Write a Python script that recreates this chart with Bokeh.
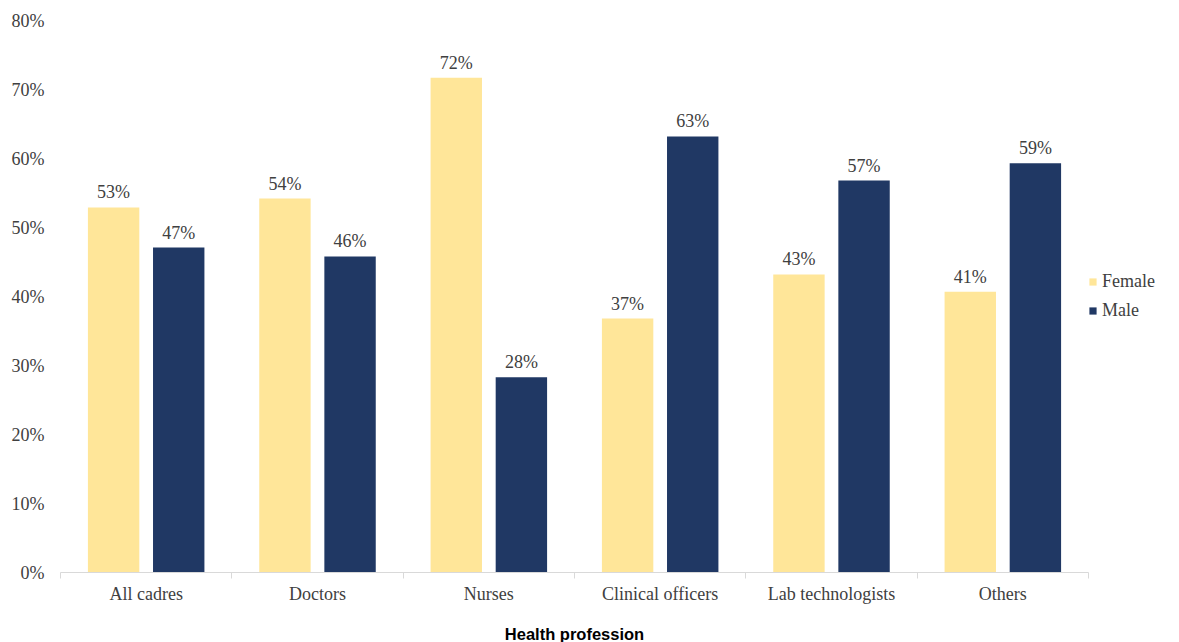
from bokeh.plotting import figure
from bokeh.models import (ColumnDataSource, Range1d, FixedTicker, PrintfTickFormatter,
                          Legend, LegendItem, LabelSet)
from bokeh.embed import file_html
from bokeh.resources import INLINE

categories = ["All cadres", "Doctors", "Nurses", "Clinical officers", "Lab technologists", "Others"]
female = [52.9, 54.2, 71.7, 36.8, 43.2, 40.7]
male = [47.1, 45.8, 28.3, 63.2, 56.8, 59.3]
female_labels = ["53%", "54%", "72%", "37%", "43%", "41%"]
male_labels = ["47%", "46%", "28%", "63%", "57%", "59%"]
y_ticks = [0, 10, 20, 30, 40, 50, 60, 70, 80]

FEMALE_C = "#FFE699"
MALE_C = "#203864"
TXT = "#404040"
SERIF = "Liberation Serif"
FS = "18px"

n = len(categories)
centers = [i + 0.5 for i in range(n)]
OFF = 0.19
src = ColumnDataSource(dict(cat=categories, xc=centers,
                            xf=[c - OFF for c in centers], xm=[c + OFF for c in centers],
                            female=female, male=male,
                            flab=female_labels, mlab=male_labels))

p = figure(x_range=Range1d(0, n), y_range=Range1d(0, 80),
           frame_width=1028, frame_height=552, output_backend="svg", toolbar_location=None,
           min_border_left=60, min_border_right=91,
           min_border_top=20, min_border_bottom=70)
p.outline_line_color = None
p.xgrid.visible = False
p.ygrid.visible = False

# y axis
p.yaxis.ticker = FixedTicker(ticks=y_ticks)
p.yaxis.formatter = PrintfTickFormatter(format="%d%%")
p.yaxis.axis_line_color = None
p.yaxis.major_tick_line_color = None
p.yaxis.minor_tick_line_color = None
p.yaxis.major_tick_out = 0
p.yaxis.major_label_standoff = 16
p.yaxis.major_label_text_font = SERIF
p.yaxis.major_label_text_font_size = FS
p.yaxis.major_label_text_color = TXT

# x axis: labels at centres, ticks at category boundaries
xa = p.xaxis[0]
xa.ticker = FixedTicker(ticks=centers, minor_ticks=list(range(n + 1)))
xa.major_label_overrides = {c: name for c, name in zip(centers, categories)}
xa.axis_line_color = "#D9D9D9"
xa.major_tick_line_color = None
xa.major_tick_out = 6
xa.major_tick_in = 0
xa.minor_tick_line_color = "#D9D9D9"
xa.minor_tick_out = 6
xa.minor_tick_in = 0
xa.major_label_standoff = 5
xa.major_label_text_font = SERIF
xa.major_label_text_font_size = FS
xa.major_label_text_color = TXT
xa.axis_label = "Health profession"
xa.axis_label_text_font = "Liberation Sans"
xa.axis_label_text_font_style = "bold"
xa.axis_label_text_font_size = "16.5px"
xa.axis_label_text_color = "#000000"
xa.axis_label_standoff = 18

rf = p.vbar(x="xf", top="female", width=0.30, source=src, fill_color=FEMALE_C, line_color=None)
rm = p.vbar(x="xm", top="male", width=0.30, source=src, fill_color=MALE_C, line_color=None)

for xcol, col, lab in [("xf", "female", "flab"), ("xm", "male", "mlab")]:
    ls = LabelSet(x=xcol, y=col, text=lab, source=src,
                  text_align="center", text_baseline="bottom", y_offset=5,
                  text_font=SERIF, text_font_size=FS, text_color=TXT)
    p.add_layout(ls)

legend = Legend(items=[LegendItem(label="Female", renderers=[rf]),
                       LegendItem(label="Male", renderers=[rm])],
                location="center_left")
legend.border_line_color = None
legend.background_fill_alpha = 0
legend.padding = 12
legend.margin = 0
legend.spacing = 8
legend.label_height = 20
legend.glyph_height = 9
legend.glyph_width = 9
legend.label_standoff = 5
legend.label_text_font = SERIF
legend.label_text_font_size = FS
legend.label_text_color = TXT
p.add_layout(legend, "right")

open("out.html", "w").write(file_html(p, INLINE))
